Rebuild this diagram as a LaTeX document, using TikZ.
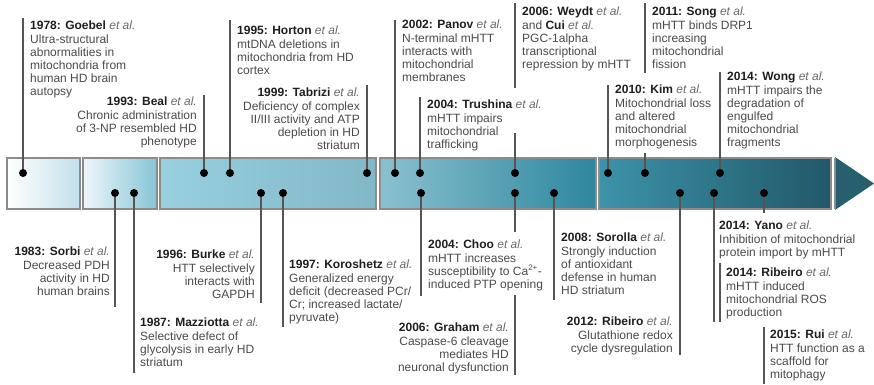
\documentclass[tikz,border=0pt]{standalone}
\usepackage{fontspec}
\setmainfont{Liberation Sans}

\definecolor{stemgray}{HTML}{555555}
\definecolor{txtgray}{HTML}{4A4A4A}
\definecolor{headgray}{HTML}{1E1E1E}
\definecolor{etalgray}{HTML}{6A6A6A}
\definecolor{framegray}{HTML}{8C8C8C}
\definecolor{eraA1}{HTML}{FFFFFF}
\definecolor{eraA2}{HTML}{C2E0EA}
\definecolor{eraB1}{HTML}{EEF6F9}
\definecolor{eraB2}{HTML}{86C5D6}
\definecolor{eraC1}{HTML}{97D0DF}
\definecolor{eraC2}{HTML}{82B7C6}
\definecolor{eraD1}{HTML}{8AC1CF}
\definecolor{eraD2}{HTML}{2E869E}
\definecolor{eraE1}{HTML}{3C93AA}
\definecolor{eraE2}{HTML}{215868}
\definecolor{tipteal}{HTML}{275F6F}

\newcommand{\etal}{{\itshape\color{etalgray}et al.}}
\newcommand{\yr}[2]{{\bfseries\color{headgray}#1: #2} \etal}

\begin{document}
\begin{tikzpicture}[x=1pt,y=-1pt,
    era/.style={draw=framegray,line width=1.6pt},
    dot/.style={circle,fill=black,inner sep=0pt,minimum size=8pt},
    stem/.style={draw=stemgray,line width=1.3pt},
    noteL/.style={anchor=north west,align=left,inner sep=0pt,
        font=\fontsize{12}{13.2}\selectfont,text=txtgray},
    noteR/.style={noteL,anchor=north east,align=right}]
    \useasboundingbox (0,0) rectangle (874,384);

    % 时间轴
    \draw[era,left color=eraA1,right color=eraA2] (7,158) rectangle (80,209);
    \draw[era,left color=eraB1,right color=eraB2] (83,158) rectangle (157,209);
    \draw[era,left color=eraC1,right color=eraC2] (160,158) rectangle (376,209);
    \draw[era,left color=eraD1,right color=eraD2] (380,158) rectangle (596,209);
    \draw[era,left color=eraE1,right color=eraE2] (599,158) rectangle (831,209);
    \fill[tipteal] (835,157) -- (874,183.5) -- (835,210) -- cycle;
    \draw[framegray,line width=1.6pt] (835,158) -- (835,209);

    % 上方的点
    \node[dot] (d1978) at (23,173) {};
    \node[dot] (d1993) at (204,173) {};
    \node[dot] (d1995) at (230,173) {};
    \node[dot] (d1999) at (367,173) {};
    \node[dot] (d2002) at (395,173) {};
    \node[dot] (d2004T) at (420,173) {};
    \node[dot] (d2006W) at (515,173) {};
    \node[dot] (d2010) at (608,173) {};
    \node[dot] (d2011) at (645,173) {};
    \node[dot] (d2014W) at (720,173) {};

    % 下方的点
    \node[dot] (d1983) at (115,193) {};
    \node[dot] (d1987) at (134,193) {};
    \node[dot] (d1996) at (261,193) {};
    \node[dot] (d1997) at (283,193) {};
    \node[dot] (d2004C) at (421,193) {};
    \node[dot] (d2006G) at (515,193) {};
    \node[dot] (d2008) at (554,193) {};
    \node[dot] (d2012) at (680,193) {};
    \node[dot] (d2014Y) at (714,193) {};
    \node[dot] (d2015) at (764,193) {};

    % 竖线端点
    \coordinate (s1978) at (23,18);
    \coordinate (s1993) at (204,95);
    \coordinate (s1995) at (230,20);
    \coordinate (s1999) at (367,85);
    \coordinate (s2002) at (395,20);
    \coordinate (s2004T) at (420,97);
    \coordinate (s2006Wa) at (515,3);
    \coordinate (s2006Wb) at (515,88);
    \coordinate (s2006Wc) at (515,133);
    \coordinate (s2010) at (608,85);
    \coordinate (s2011a) at (645,3);
    \coordinate (s2011b) at (645,73);
    \coordinate (s2011c) at (645,153);
    \coordinate (s2014W) at (720,72);
    \coordinate (s1983) at (115,307);
    \coordinate (s1987) at (134,373);
    \coordinate (s1996) at (261,303);
    \coordinate (s1997) at (283,327);
    \coordinate (s2004C) at (421,296);
    \coordinate (s2006Ga) at (515,232);
    \coordinate (s2006Gb) at (515,295);
    \coordinate (s2006Gc) at (515,375);
    \coordinate (s2008) at (554,300);
    \coordinate (s2012) at (680,355);
    \coordinate (s2014Y) at (714,322);
    \coordinate (s2014Ra) at (720,263);
    \coordinate (s2014Rb) at (720,322);
    \coordinate (s2015a) at (764,213);
    \coordinate (s2015b) at (764,327);
    \coordinate (s2015c) at (764,384);

    % 竖线
    \draw[stem] (s1978) -- (d1978);
    \draw[stem] (s1993) -- (d1993);
    \draw[stem] (s1995) -- (d1995);
    \draw[stem] (s1999) -- (d1999);
    \draw[stem] (s2002) -- (d2002);
    \draw[stem] (s2004T) -- (d2004T);
    \draw[stem] (s2006Wa) -- (s2006Wb) (s2006Wc) -- (d2006W);
    \draw[stem] (s2010) -- (d2010);
    \draw[stem] (s2011a) -- (s2011b) (s2011c) -- (d2011);
    \draw[stem] (s2014W) -- (d2014W);
    \draw[stem] (d1983) -- (s1983);
    \draw[stem] (d1987) -- (s1987);
    \draw[stem] (d1996) -- (s1996);
    \draw[stem] (d1997) -- (s1997);
    \draw[stem] (d2004C) -- (s2004C);
    \draw[stem] (d2006G) -- (s2006Ga) (s2006Gb) -- (s2006Gc);
    \draw[stem] (d2008) -- (s2008);
    \draw[stem] (d2012) -- (s2012);
    \draw[stem] (d2014Y) -- (s2014Y);
    \draw[stem] (s2014Ra) -- (s2014Rb);
    \draw[stem] (d2015) -- (s2015a) (s2015b) -- (s2015c);

    % 上方文字
    \node[noteL] (n1978) at (30,21) {\yr{1978}{Goebel}\\Ultra-structural\\abnormalities in\\mitochondria from\\human HD brain\\autopsy};
    \node[noteR] (n1993) at (197,97) {\yr{1993}{Beal}\\Chronic administration\\of 3-NP resembled HD\\phenotype};
    \node[noteL] (n1995) at (237,26) {\yr{1995}{Horton}\\mtDNA deletions in\\mitochondria from HD\\cortex};
    \node[noteR] (n1999) at (360,88) {\yr{1999}{Tabrizi}\\Deficiency of complex\\II/III activity and ATP\\depletion in HD\\striatum};
    \node[noteL] (n2002) at (402,20) {\yr{2002}{Panov}\\N-terminal mHTT\\interacts with\\mitochondrial\\membranes};
    \node[noteL] (n2004T) at (427,100) {\yr{2004}{Trushina}\\mHTT impairs\\mitochondrial\\trafficking};
    \node[noteL] (n2006W) at (522,7) {\yr{2006}{Weydt}\\and {\bfseries\color{headgray}Cui} \etal\\PGC-1alpha\\transcriptional\\repression by mHTT};
    \node[noteL] (n2011) at (652,7) {\yr{2011}{Song}\\mHTT binds DRP1\\increasing\\mitochondrial\\fission};
    \node[noteL] (n2010) at (615,85) {\yr{2010}{Kim}\\Mitochondrial loss\\and altered\\mitochondrial\\morphogenesis};
    \node[noteL] (n2014W) at (727,72) {\yr{2014}{Wong}\\mHTT impairs the\\degradation of\\engulfed\\mitochondrial\\fragments};

    % 下方文字
    \node[noteR] (n1983) at (110,247) {\yr{1983}{Sorbi}\\Decreased PDH\\activity in HD\\human brains};
    \node[noteL] (n1987) at (140,318) {\yr{1987}{Mazziotta}\\Selective defect of\\glycolysis in early HD\\striatum};
    \node[noteR] (n1996) at (255,250) {\yr{1996}{Burke}\\HTT selectively\\interacts with\\GAPDH};
    \node[noteL] (n1997) at (289,260) {\yr{1997}{Koroshetz}\\Generalized energy\\deficit (decreased PCr/\\Cr; increased lactate/\\pyruvate)};
    \node[noteL] (n2004C) at (428,240) {\yr{2004}{Choo}\\mHTT increases\\susceptibility to Ca\textsuperscript{2+}-\\induced PTP opening};
    \node[noteR] (n2006G) at (509,323) {\yr{2006}{Graham}\\Caspase-6 cleavage\\mediates HD\\neuronal dysfunction};
    \node[noteL] (n2008) at (561,233) {\yr{2008}{Sorolla}\\Strongly induction\\of antioxidant\\defense in human\\HD striatum};
    \node[noteR] (n2012) at (673,317) {\yr{2012}{Ribeiro}\\Glutathione redox\\cycle dysregulation};
    \node[noteL] (n2014Y) at (719,221) {\yr{2014}{Yano}\\Inhibition of mitochondrial\\protein import by mHTT};
    \node[noteL] (n2014R) at (726,268) {\yr{2014}{Ribeiro}\\mHTT induced\\mitochondrial ROS\\production};
    \node[noteL] (n2015) at (770,330) {\yr{2015}{Rui}\\HTT function as a\\scaffold for\\mitophagy};
\end{tikzpicture}
\end{document}
